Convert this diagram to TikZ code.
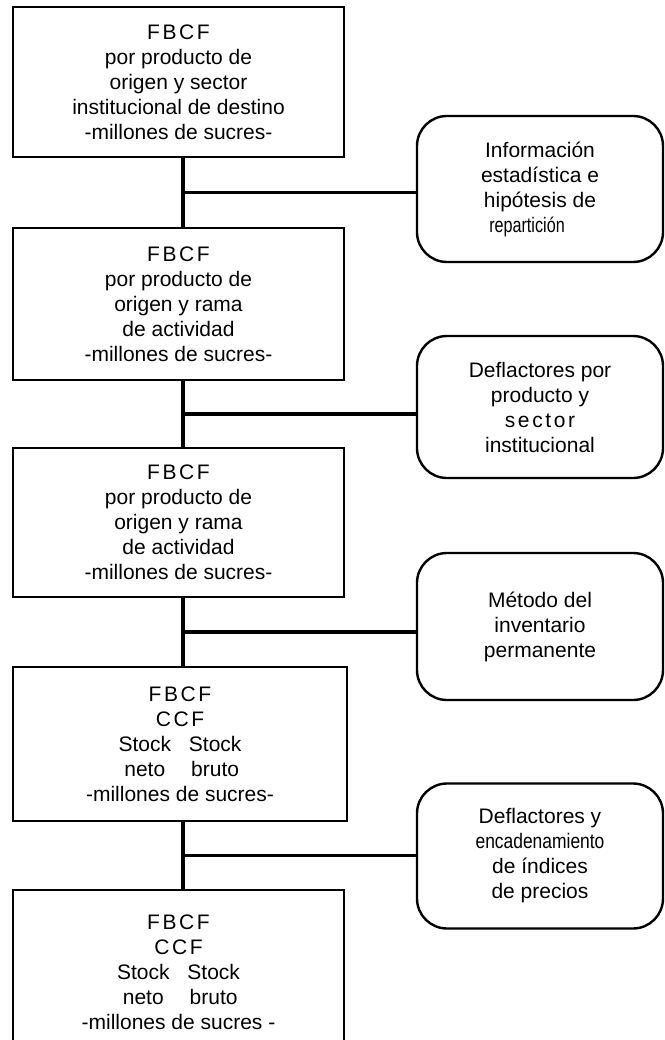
\documentclass[tikz,border=0pt]{standalone}
\usepackage{fontspec}
\setmainfont{Liberation Sans}
\usepackage{graphicx}
\usetikzlibrary{calc}

\newcommand{\lsp}{\kern2.6pt}

\begin{document}
\begin{tikzpicture}[x=1pt,y=-1pt,font=\fontsize{21}{25}\selectfont,
	box/.style={draw,line width=2.4pt,minimum width=331pt,inner sep=0pt,align=center},
	roundbox/.style={draw,line width=2.4pt,rounded corners=30pt,minimum width=246pt,inner sep=0pt,align=center},
	conn/.style={line width=3.4pt}]
	\useasboundingbox (0,0) rectangle (664,1040);
	
	%left column
	\node[box,minimum height=150pt] (b1) at (178.5,82) {F\lsp B\lsp C\lsp F\\por producto de\\origen y sector\\institucional de destino\\-millones de sucres-};
	\node[box,minimum height=152pt] (b2) at (178.5,304) {F\lsp B\lsp C\lsp F\\por producto de\\origen y rama\\de actividad\\-millones de sucres-};
	\node[box,minimum height=149pt] (b3) at (178.5,522.5) {F\lsp B\lsp C\lsp F\\por producto de\\origen y rama\\de actividad\\-millones de sucres-};
	\node[box,minimum height=154pt,minimum width=334pt] (b4) at (180,744) {F\lsp B\lsp C\lsp F\\C\lsp C\lsp F\\\makebox[3.35em]{Stock}\makebox[3.35em]{Stock}\\\makebox[3.35em]{neto}\makebox[3.35em]{bruto}\\-millones de sucres-};
	\node[box,minimum height=164pt] (b5) at (178.5,972) {F\lsp B\lsp C\lsp F\\C\lsp C\lsp F\\\makebox[3.35em]{Stock}\makebox[3.35em]{Stock}\\\makebox[3.35em]{neto}\makebox[3.35em]{bruto}\\-millones de sucres -};
	
	%right column
	\node[roundbox,minimum height=146pt] (r1) at (540,189) {Información\\estadística e\\hipótesis de\\\scalebox{0.77}[1]{repartición}\hspace*{26pt}};
	\node[roundbox,minimum height=142pt] (r2) at (540,407) {Deflactores por\\producto y\\s\lsp e\lsp c\lsp t\lsp o\lsp r\\institucional};
	\node[roundbox,minimum height=147pt] (r3) at (540,626.5) {Método del\\inventario\\permanente};
	\node[roundbox,minimum height=145pt] (r4) at (540,856) {Deflactores y\\\scalebox{0.83}[1]{encadenamiento}\hspace*{14pt}\\de índices\\de precios};
	
	%connectors
	\coordinate (s1) at ([xshift=4.5pt]b1.south);
	\coordinate (s2) at ([xshift=4.5pt]b2.south);
	\coordinate (s3) at ([xshift=4.5pt]b3.south);
	\coordinate (s4) at ([xshift=3pt]b4.south);
	\coordinate (j1) at ($(s1)!.5!(s1 |- b2.north)$);
	\coordinate (j2) at ($(s2)!.5!(s2 |- b3.north)$);
	\coordinate (j3) at ($(s3)!.5!(s3 |- b4.north)$);
	\coordinate (j4) at ($(s4)!.5!(s4 |- b5.north)$);
	\draw[conn] (s1) -- (s1 |- b2.north);	%b1 | b2
	\draw[conn] (s2) -- (s2 |- b3.north);	%b2 | b3
	\draw[conn] (s3) -- (s3 |- b4.north);	%b3 | b4
	\draw[conn] (s4) -- (s4 |- b5.north);	%b4 | b5
	\draw[conn] (j1) -- (j1 -| r1.west);
	\draw[conn] (j2) -- (j2 -| r2.west);
	\draw[conn] (j3) -- (j3 -| r3.west);
	\draw[conn] (j4) -- (j4 -| r4.west);
\end{tikzpicture}
\end{document}
